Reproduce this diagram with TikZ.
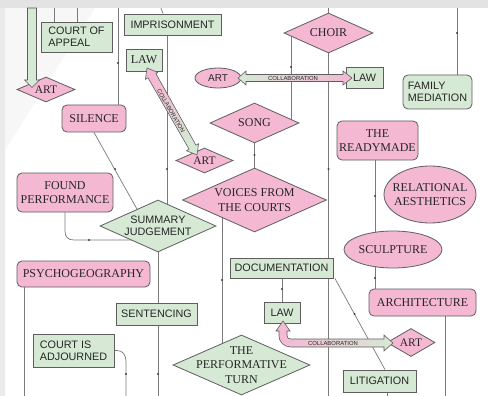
\documentclass[tikz,border=0pt]{standalone}
\usepackage{fontspec}
\setmainfont{Liberation Serif}
\setsansfont{Liberation Sans}
\usetikzlibrary{shapes.geometric}
\pgfdeclarelayer{bg}
\pgfdeclarelayer{lines}
\pgfsetlayers{bg,lines,main}
\definecolor{pfill}{HTML}{F4B8D3}
\definecolor{gfill}{HTML}{D6E9D4}
\definecolor{bord}{HTML}{5E5E5E}
\definecolor{linec}{HTML}{7A7A7A}
\definecolor{topc}{HTML}{E3E3E3}
\definecolor{leftc}{HTML}{EBEBEB}
\definecolor{txtc}{HTML}{262626}
\begin{document}
\begin{tikzpicture}[x=1pt,y=-1pt,
  sfont/.style={font=\sffamily\fontsize{10.8}{12.3}\selectfont, text=txtc},
  rfont/.style={font=\rmfamily\fontsize{12}{14.5}\selectfont, text=txtc},
  gbox/.style={rectangle, draw=bord, fill=gfill, line width=0.8pt, inner sep=0pt, align=left, sfont},
  grbox/.style={gbox, rounded corners=5pt},
  pbox/.style={rectangle, rounded corners=5pt, draw=bord, fill=pfill, line width=0.8pt, inner sep=0pt, align=center, rfont},
  pdia/.style={diamond, draw=bord, fill=pfill, line width=0.8pt, inner sep=0pt},
  gdia/.style={diamond, draw=bord, fill=gfill, line width=0.8pt, inner sep=0pt},
  pell/.style={ellipse, draw=bord, fill=pfill, line width=0.8pt, inner sep=0pt},
  conn/.style={draw=linec, line width=0.7pt},
  midmark/.style={fill=black!75},
  blockarrow/.style={draw=bord, line width=0.6pt},
  collab/.style={font=\sffamily\fontsize{5.9}{6}\selectfont, text=txtc, inner sep=0pt}
]
\useasboundingbox (0,0) rectangle (488,396);
% background
\begin{pgfonlayer}{bg}
\fill[white] (0,0) rectangle (488,396);
\fill[black!3] (5,8) -- (95,8) -- (5,150) -- cycle;
\fill[topc] (0,0) rectangle (488,8);
\fill[leftc] (0,8) rectangle (5,396);
\end{pgfonlayer}

% ---------- anchor coordinates ----------
\coordinate (t54) at (54,8);
\coordinate (t77) at (77,8);
\coordinate (t118) at (118,8);
\coordinate (t161) at (161,8);
\coordinate (t328) at (328.5,8);
\coordinate (t457) at (457,8);
\coordinate (b24) at (24,396);
\coordinate (b126) at (126,396);
\coordinate (b158) at (158,396);
\coordinate (b328) at (328.5,396);
\coordinate (b387) at (387,396);
\coordinate (b445) at (445,396);

% ---------- nodes: rectangles ----------
\node[gbox, minimum width=71pt, minimum height=30pt] (coa) at (76.5,37) {COURT OF\\APPEAL};
\node[gbox, minimum width=97pt, minimum height=21pt] (imp) at (172.5,24.5) {IMPRISONMENT};
\node[gbox, rfont, minimum width=36pt, minimum height=22pt] (law1) at (144,60) {LAW};
\node[gbox, minimum width=37pt, minimum height=21pt] (law2) at (364.5,77.5) {LAW};
\node[pbox, minimum width=64pt, minimum height=27pt] (sil) at (94,118.5) {SILENCE};
\node[pbox, minimum width=96pt, minimum height=39pt] (found) at (65,192.5) {FOUND\\PERFORMANCE};
\node[pbox, minimum width=133pt, minimum height=26pt] (psy) at (83.5,274) {PSYCHOGEOGRAPHY};
\node[gbox, minimum width=81pt, minimum height=22pt] (sent) at (156.5,314) {SENTENCING};
\node[gbox, minimum width=81pt, minimum height=33pt] (adj) at (73.5,350.5) {COURT IS\\ADJOURNED};
\node[grbox, minimum width=69pt, minimum height=34pt] (fam) at (437.5,92) {FAMILY\\MEDIATION};
\node[pbox, minimum width=81pt, minimum height=39pt] (ready) at (377.5,140.5) {THE\\READYMADE};
\node[pbox, minimum width=107pt, minimum height=27pt] (arch) at (422.5,302.5) {ARCHITECTURE};
\node[gbox, minimum width=103pt, minimum height=20pt] (doc) at (281.5,268) {DOCUMENTATION};
\node[gbox, minimum width=36pt, minimum height=21pt] (law3) at (282,312.5) {LAW};
\node[gbox, minimum width=73pt, minimum height=22pt] (lit) at (379.5,381) {LITIGATION};

% ---------- nodes: diamonds and ellipses (text as centred label) ----------
\node[pdia, minimum width=58pt, minimum height=25pt, label={[rfont, font=\rmfamily\fontsize{11.5}{14}\selectfont]center:ART}] (art1) at (46,89.5) {};
\node[pdia, minimum width=57pt, minimum height=25pt, label={[rfont, font=\rmfamily\fontsize{11.5}{14}\selectfont]center:ART}] (art2) at (204.5,160.5) {};
\node[pdia, minimum width=89pt, minimum height=40pt, label={[rfont]center:CHOIR}] (choir) at (328.5,33) {};
\node[pdia, minimum width=89pt, minimum height=40pt, label={[rfont]center:SONG}] (song) at (254.5,123) {};
\node[pdia, minimum width=144pt, minimum height=64pt, label={[rfont, align=center]center:VOICES FROM\\THE COURTS}] (voices) at (254.5,200) {};
\node[pdia, minimum width=48pt, minimum height=28pt, label={[rfont, font=\rmfamily\fontsize{11.5}{14}\selectfont]center:ART}] (art4) at (411,342.5) {};
\node[gdia, minimum width=116pt, minimum height=52pt, label={[sfont, align=center]center:SUMMARY\\JUDGEMENT}] (sj) at (158,226) {};
\node[gdia, minimum width=137pt, minimum height=60pt, label={[rfont, align=center]center:THE\\PERFORMATIVE\\TURN}] (perf) at (241.5,365) {};
\node[pell, minimum width=46pt, minimum height=20pt, label={[sfont, font=\sffamily\fontsize{10}{12}\selectfont]center:ART}] (art3) at (218,78) {};
\node[pell, minimum width=92pt, minimum height=57pt, label={[rfont, align=center]center:RELATIONAL\\AESTHETICS}] (rel) at (430,194.5) {};
\node[pell, minimum width=98pt, minimum height=37pt, label={[rfont]center:SCULPTURE}] (sculp) at (393,249.5) {};

% ---------- connectors (on a layer under the nodes) ----------
\begin{pgfonlayer}{lines}
\draw[conn] (t54) -- (t54 |- coa.north);
\draw[conn] (t77) -- (t77 |- coa.north);
\draw[conn] (t118) -- (t118 |- sil.north);
\draw[conn] (t161) -- ([xshift=-9.5pt]imp.north);
\draw[conn] ([xshift=-5.5pt]imp.south) -- ([xshift=-5.5pt]imp.south |- sj.center);
\draw[conn] (sil.south) -- ([xshift=-11.5pt]sj.center);
\draw[conn] (found.south) -- (65,231) .. controls (65,237) and (68,240) .. (74,240) -- ([yshift=-14pt]sj.center);
\draw[conn] (psy.south -| b24) -- (b24);
\draw[conn] (sj.center) -- (sj.center |- sent.center);
\draw[conn] (b158 |- sent.center) -- (b158);
\draw[conn] (adj.east) -- (117,350.5) .. controls (123,350.5) and (126,355) .. (126,362) -- (b126);
\draw[conn] (t328) -- (choir.north);
\draw[conn] ([xshift=-37.5pt]choir.center) -- ([xshift=36.5pt]song.center);
\draw[conn] (choir.center) -- (b328);
\draw[conn] (song.south) -- (voices.north);
\draw[conn] ([xshift=-32.5pt]voices.center) -- ([xshift=-19.5pt]perf.center);
\draw[conn] (t457) -- (t457 |- fam.north);
\draw[conn] ([xshift=-2.5pt]ready.south) -- ([xshift=-18pt]sculp.center);
\draw[conn] ([xshift=-18pt]sculp.center) -- ([xshift=-47.5pt]arch.north);
\draw[conn] ([xshift=22.5pt]arch.south) -- (b445);
\draw[conn] (law3.north |- doc.south) -- (law3.north);
\draw[conn] ([xshift=1.5pt]doc.south east) -- ([xshift=5.5pt]lit.north);
\draw[conn] ([xshift=7.5pt]lit.south) -- (b387);
% small direction marks on the connectors
\foreach \p in {(118,63),(167,169),(115,169),(291,67),(328.5,169),(254.5,155),
  (457,33),(375,196),(375,278),(282,289),(354.5,314),(89,240),(158,374),(126,374),(222,280)}
  \fill[midmark] \p circle (1.1pt);
\end{pgfonlayer}

% ---------- block arrows ----------
% top-left arrow into ART
\path[blockarrow, fill=gfill] (27.5,8) -- (36.5,8) -- (36.5,80) -- (39.5,80) -- (32,87.5) -- (24.5,80) -- (27.5,80) -- cycle;

% ART (ellipse) <-> LAW
\shade[blockarrow, left color=gfill, middle color=gfill, right color=pfill]
  (238,78) -- (246,71) -- (246,74.5) -- (343,74.5) -- (343,71) -- (352,78) -- (343,85) -- (343,81.5) -- (246,81.5) -- (246,85) -- cycle;
\node[collab] (c1) at (293,78) {COLLABORATION};

% LAW <-> ART diagonal
\shade[blockarrow, top color=pfill, bottom color=gfill, shading angle=29.9]
  (147,68) -- (157.56,72.32) -- (155.96,73.82) -- (195.98,145.20) -- (198.58,143.70) -- (197,155)
  -- (186.44,150.68) -- (189.04,149.18) -- (148.02,77.80) -- (145.42,79.30) -- cycle;
\node[collab, rotate=-60.1] (c2) at (171,111) {COLLABORATION};

% LAW <-> ART curved
\shade[blockarrow, left color=pfill, right color=gfill]
  (283,321) -- (290,331) -- (287,331) -- (287,335) .. controls (287,338) and (288,339) .. (291,339)
  -- (384,339) -- (384,335) -- (393,343) -- (384,351) -- (384,347) -- (291,347)
  .. controls (284,347) and (279,342) .. (279,336) -- (279,331) -- (276,331) -- cycle;
\node[collab] (c3) at (333,343) {COLLABORATION};
\end{tikzpicture}
\end{document}
